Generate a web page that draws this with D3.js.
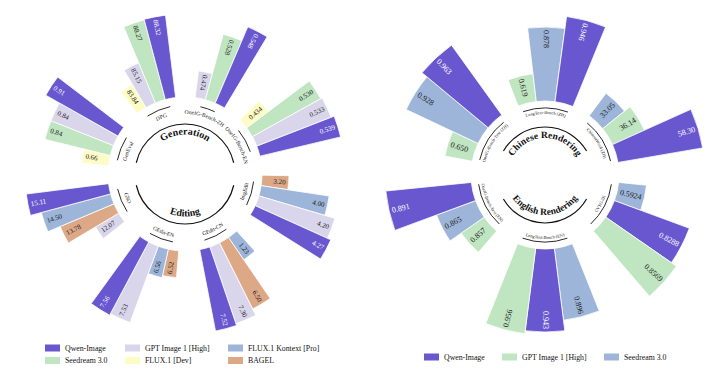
<!DOCTYPE html>
<html>
<head>
<meta charset="utf-8">
<script src="https://d3js.org/d3.v7.min.js"></script>
<style>
  body { margin: 0; background: #fff; }
  svg text { font-family: "Liberation Serif", "DejaVu Serif", serif; fill: #111; }
</style>
</head>
<body>
<div id="chart"></div>
<script>
// ---------------- data ----------------
// left figure: generation / editing
const leftModels = ["Qwen-Image", "GPT Image 1 [High]", "FLUX.1 Kontext [Pro]", "Seedream 3.0", "FLUX.1 [Dev]", "BAGEL"];
const leftColors = ["#6957d0", "#d9d5ea", "#9db5d9", "#bfe5c1", "#fdfcc4", "#dca886"];

// bars are listed clockwise inside each benchmark
const genCategories = ["GenEval", "DPG", "OneIG-Bench-ZH", "OneIG-Bench-EN"];
const genOrder = [
  ["FLUX.1 [Dev]", "Seedream 3.0", "GPT Image 1 [High]", "Qwen-Image"],
  ["FLUX.1 [Dev]", "GPT Image 1 [High]", "Seedream 3.0", "Qwen-Image"],
  ["GPT Image 1 [High]", "Seedream 3.0", "Qwen-Image"],
  ["FLUX.1 [Dev]", "Seedream 3.0", "GPT Image 1 [High]", "Qwen-Image"]
];
const genValues = [
  [0.66, 0.84, 0.84, 0.91],
  [83.84, 85.15, 88.27, 88.32],
  [0.474, 0.528, 0.548],
  [0.434, 0.530, 0.533, 0.539]
];
const genDigits = [2, 2, 3, 3];

const editCategories = ["ImgEdit", "GEdit-CN", "GEdit-EN", "GSO"];
const editOrder = [
  ["BAGEL", "FLUX.1 Kontext [Pro]", "GPT Image 1 [High]", "Qwen-Image"],
  ["FLUX.1 Kontext [Pro]", "BAGEL", "GPT Image 1 [High]", "Qwen-Image"],
  ["BAGEL", "FLUX.1 Kontext [Pro]", "GPT Image 1 [High]", "Qwen-Image"],
  ["GPT Image 1 [High]", "BAGEL", "FLUX.1 Kontext [Pro]", "Qwen-Image"]
];
const editValues = [
  [3.20, 4.00, 4.20, 4.27],
  [1.23, 6.50, 7.30, 7.52],
  [6.52, 6.56, 7.53, 7.56],
  [12.07, 13.78, 14.50, 15.11]
];
const editDigits = [2, 2, 2, 2];

// right figure: text rendering
const rightModels = ["Qwen-Image", "GPT Image 1 [High]", "Seedream 3.0"];
const rightColors = ["#6957d0", "#bfe5c1", "#9db5d9"];

const zhCategories = ["OneIG-Bench-Text (ZH)", "LongText-Bench (ZH)", "ChineseWord (ZH)"];
const zhOrder = [
  ["GPT Image 1 [High]", "Seedream 3.0", "Qwen-Image"],
  ["GPT Image 1 [High]", "Seedream 3.0", "Qwen-Image"],
  ["Seedream 3.0", "GPT Image 1 [High]", "Qwen-Image"]
];
const zhValues = [
  [0.650, 0.928, 0.963],
  [0.619, 0.878, 0.946],
  [33.05, 36.14, 58.30]
];
const zhDigits = [3, 3, 2];

const enCategories = ["CVTG-2K", "LongText-Bench (EN)", "OneIG-Bench-Text (EN)"];
const enOrder = [
  ["Seedream 3.0", "Qwen-Image", "GPT Image 1 [High]"],
  ["Seedream 3.0", "Qwen-Image", "GPT Image 1 [High]"],
  ["GPT Image 1 [High]", "Seedream 3.0", "Qwen-Image"]
];
const enValues = [
  [0.5924, 0.8288, 0.8569],
  [0.896, 0.943, 0.956],
  [0.857, 0.865, 0.891]
];
const enDigits = [4, 3, 3];
const enFloors = [null, 0.70, null];   // lower end of the radial scale (null = benchmark minimum)

// ---------------- drawing ----------------
const W = 720, H = 375;
const rad = Math.PI / 180;

const svg = d3.select("#chart").append("svg")
  .attr("width", W).attr("height", H);

function pt(r, a) { return [r * Math.sin(a * rad), -r * Math.cos(a * rad)]; }

// arc from a0 to a1 (degrees, clockwise from 12 o'clock)
function arcPath(r, a0, a1) {
  const p0 = pt(r, a0), p1 = pt(r, a1);
  const large = Math.abs(a1 - a0) > 180 ? 1 : 0;
  const sweep = a1 > a0 ? 1 : 0;
  return "M" + p0[0] + "," + p0[1] + "A" + r + "," + r + " 0 " + large + " " + sweep + " " + p1[0] + "," + p1[1];
}

let uid = 0;

function drawHalf(g, o) {
  const color = d3.scaleOrdinal().domain(o.models).range(o.colors);
  let k = 0;
  o.cats.forEach(function(cat, c) {
    const vals = o.values[c];
    const lo = (o.floors && o.floors[c] != null) ? o.floors[c] : d3.min(vals);
    const r = d3.scaleLinear().domain([lo, d3.max(vals)]).range([o.rLow, o.rHigh]);
    const angles = vals.map(function(v, j) { return o.start + (k + j) * o.step + c * o.gap; });
    k += vals.length;

    vals.forEach(function(v, j) {
      const a = angles[j];
      const model = o.order[c][j];
      g.append("path")
        .attr("d", d3.arc()
          .innerRadius(o.rIn).outerRadius(r(v))
          .startAngle((a - o.step / 2) * rad).endAngle((a + o.step / 2) * rad)())
        .attr("fill", color(model))
        .attr("stroke", "#fff").attr("stroke-width", 0.8);

      // value label near the outer end, kept readable
      const inward = o.upper ? a < 30 : a > 180;
      const p = pt(r(v) - o.pad, a);
      const rot = inward ? a + 90 : a - 90;
      g.append("text")
        .attr("transform", "translate(" + p[0] + "," + p[1] + ") rotate(" + rot + ")")
        .attr("text-anchor", inward ? "start" : "end")
        .attr("dominant-baseline", "central")
        .style("font-size", o.valueSize + "px")
        .style("fill", model === "Qwen-Image" ? "#fff" : "#222")
        .text(v.toFixed(o.digits[c]));
    });

    // benchmark label ring
    const a0 = angles[0] - o.ringExt, a1 = angles[angles.length - 1] + o.ringExt;
    g.append("path")
      .attr("d", arcPath(o.ringR, a0, a1))
      .attr("fill", "none").attr("stroke", "#111").attr("stroke-width", 0.9);
    const id = "lbl" + (uid++);
    g.append("path").attr("id", id).attr("fill", "none")
      .attr("d", o.upper ? arcPath(o.ringTextR, a0 - 20, a1 + 20) : arcPath(o.ringTextR, a1 + 20, a0 - 20));
    g.append("text")
      .style("font-size", o.labelSize + "px")
      .append("textPath").attr("href", "#" + id)
      .attr("startOffset", "50%").attr("text-anchor", "middle")
      .text(cat);
  });

  // inner title arc
  const t0 = o.upper ? -o.titleSpan : 180 + o.titleSpan;
  const t1 = o.upper ? o.titleSpan : 180 - o.titleSpan;
  g.append("path")
    .attr("d", arcPath(o.titleArcR, Math.min(t0, t1), Math.max(t0, t1)))
    .attr("fill", "none").attr("stroke", "#111").attr("stroke-width", 1.2);
  const tid = "ttl" + (uid++);
  g.append("path").attr("id", tid).attr("fill", "none")
    .attr("d", arcPath(o.titleR, t0, t1));
  g.append("text")
    .style("font-size", o.titleSize + "px").style("font-weight", "bold")
    .append("textPath").attr("href", "#" + tid)
    .attr("startOffset", "50%").attr("text-anchor", "middle")
    .text(o.title);
}

// left figure
const gl = svg.append("g").attr("transform", "translate(185,174)");
const leftBase = { models: leftModels, colors: leftColors, step: 7.8, rIn: 77, rLow: 104, rHigh: 160,
  pad: 3, valueSize: 7, labelSize: 5.6, ringR: 69, ringExt: -1.5, titleArcR: 50, titleSpan: 77, titleSize: 10 };
drawHalf(gl, Object.assign({}, leftBase, { upper: true, cats: genCategories, order: genOrder, values: genValues,
  digits: genDigits, start: -80, gap: 14.5, ringTextR: 60, titleR: 39.5, title: "Generation" }));
drawHalf(gl, Object.assign({}, leftBase, { upper: false, cats: editCategories, order: editOrder, values: editValues,
  digits: editDigits, start: 94.8, gap: 15.7, ringTextR: 64, titleR: 42.5, title: "Editing" }));

// right figure
const gr = svg.append("g").attr("transform", "translate(545,175)");
const rightBase = { models: rightModels, colors: rightColors, step: 14.5, rIn: 74, rLow: 102, rHigh: 160,
  pad: 3, valueSize: 8, labelSize: 4.4, ringR: 67, ringExt: 5, titleArcR: 48, titleSpan: 60, titleSize: 9.5 };
drawHalf(gr, Object.assign({}, rightBase, { upper: true, cats: zhCategories, order: zhOrder, values: zhValues,
  digits: zhDigits, start: -72, gap: 14.5, ringTextR: 61, titleR: 37, title: "Chinese Rendering" }));
drawHalf(gr, Object.assign({}, rightBase, { upper: false, cats: enCategories, order: enOrder, values: enValues,
  digits: enDigits, floors: enFloors, start: 103, gap: 19, ringTextR: 64, titleR: 40, title: "English Rendering" }));

// legends
function legend(models, colors, cols, x0, y0, colX, rowH) {
  const lg = svg.append("g").attr("transform", "translate(" + x0 + "," + y0 + ")");
  models.forEach(function(m, i) {
    const cx = colX[i % cols], cy = Math.floor(i / cols) * rowH;
    lg.append("rect").attr("x", cx).attr("y", cy - 3.5).attr("width", 15).attr("height", 7)
      .attr("fill", colors[i]);
    lg.append("text").attr("x", cx + 20).attr("y", cy).attr("dominant-baseline", "central")
      .style("font-size", "7.8px").text(m);
  });
}
legend(leftModels, leftColors, 3, 45, 348, [0, 80, 183], 12.5);
legend(rightModels, rightColors, 3, 424, 357, [0, 78, 180], 12);
</script>
</body>
</html>
